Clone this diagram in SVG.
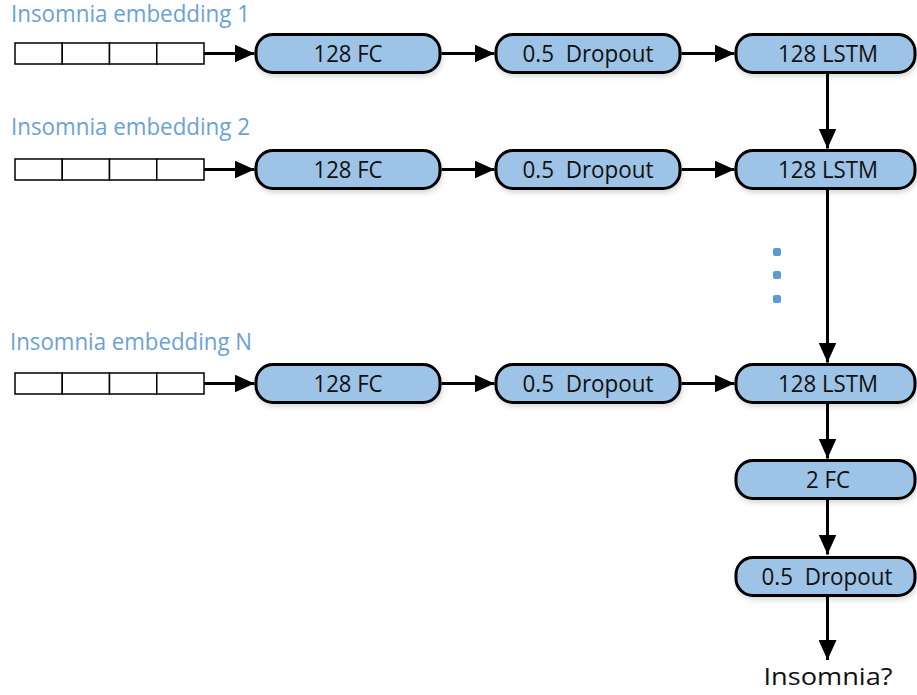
<svg xmlns="http://www.w3.org/2000/svg" width="917" height="695" viewBox="0 0 917 695">
  <style>
    .node { fill: #9DC3E6; stroke: #000; stroke-width: 3; filter: url(#shadow); }
    .lbl { font-family: "Open Sans", "Liberation Sans", Arial, sans-serif; font-size: 23px; fill: #111; text-anchor: middle; white-space: pre; }
    .emb-title { font-family: "Open Sans", "Liberation Sans", Arial, sans-serif; font-size: 23px; fill: #6AA2D6; }
    .cell { fill: #fff; stroke: #000; stroke-width: 1.5; }
    .edge { stroke: #000; stroke-width: 3; fill: none; marker-end: url(#arrow); }
    .dot { fill: #5B9BD5; }
  </style>
  <defs>
    <marker id="arrow" markerUnits="userSpaceOnUse" markerWidth="20" markerHeight="18" refX="20" refY="9" orient="auto">
      <path d="M0,0 L20,9 L0,18 z" fill="#000"/>
    </marker>
    <filter id="shadow" x="-10%" y="-30%" width="120%" height="170%">
      <feDropShadow dx="1" dy="3" stdDeviation="2.5" flood-color="#000" flood-opacity="0.15"/>
    </filter>
  </defs>

  <rect width="917" height="695" fill="#fff"/>

  <!-- input embedding titles -->
  <text class="emb-title" x="11" y="22" textLength="239" lengthAdjust="spacingAndGlyphs">Insomnia embedding 1</text>
  <text class="emb-title" x="11" y="135" textLength="239" lengthAdjust="spacingAndGlyphs">Insomnia embedding 2</text>
  <text class="emb-title" x="10" y="350" textLength="242" lengthAdjust="spacingAndGlyphs">Insomnia embedding N</text>

  <!-- embedding vectors -->
  <g id="emb1">
    <rect class="cell" x="15" y="43" width="47.25" height="21"/>
    <rect class="cell" x="62.25" y="43" width="47.25" height="21"/>
    <rect class="cell" x="109.5" y="43" width="47.25" height="21"/>
    <rect class="cell" x="156.75" y="43" width="47.25" height="21"/>
  </g>
  <g id="emb2">
    <rect class="cell" x="15" y="159" width="47.25" height="21"/>
    <rect class="cell" x="62.25" y="159" width="47.25" height="21"/>
    <rect class="cell" x="109.5" y="159" width="47.25" height="21"/>
    <rect class="cell" x="156.75" y="159" width="47.25" height="21"/>
  </g>
  <g id="embN">
    <rect class="cell" x="15" y="373" width="47.25" height="21"/>
    <rect class="cell" x="62.25" y="373" width="47.25" height="21"/>
    <rect class="cell" x="109.5" y="373" width="47.25" height="21"/>
    <rect class="cell" x="156.75" y="373" width="47.25" height="21"/>
  </g>

  <!-- connectors -->
  <g id="connectors">
    <line class="edge" x1="204" y1="53.5" x2="254.5" y2="53.5"/>
    <line class="edge" x1="441.5" y1="53.5" x2="494.5" y2="53.5"/>
    <line class="edge" x1="681.5" y1="53.5" x2="734.5" y2="53.5"/>
    <line class="edge" x1="204" y1="169.5" x2="254.5" y2="169.5"/>
    <line class="edge" x1="441.5" y1="169.5" x2="494.5" y2="169.5"/>
    <line class="edge" x1="681.5" y1="169.5" x2="734.5" y2="169.5"/>
    <line class="edge" x1="204" y1="383.5" x2="254.5" y2="383.5"/>
    <line class="edge" x1="441.5" y1="383.5" x2="494.5" y2="383.5"/>
    <line class="edge" x1="681.5" y1="383.5" x2="734.5" y2="383.5"/>
    <line class="edge" x1="827.5" y1="73.5" x2="827.5" y2="148.5"/>
    <line class="edge" x1="827.5" y1="189.5" x2="827.5" y2="362.5"/>
    <line class="edge" x1="827.5" y1="403.5" x2="827.5" y2="458.5"/>
    <line class="edge" x1="827.5" y1="499.5" x2="827.5" y2="554.5"/>
    <line class="edge" x1="827.5" y1="596.5" x2="827.5" y2="660"/>
  </g>

  <!-- row 1 -->
  <g id="fc1"><rect class="node" x="256" y="34.5" width="184" height="38" rx="17"/><text class="lbl" x="348" y="61.5" textLength="69" lengthAdjust="spacingAndGlyphs">128 FC</text></g>
  <g id="drop1"><rect class="node" x="496" y="34.5" width="184" height="38" rx="17"/><text class="lbl" x="588" y="61.5" textLength="131" lengthAdjust="spacingAndGlyphs">0.5  Dropout</text></g>
  <g id="lstm1"><rect class="node" x="736" y="34.5" width="179" height="38" rx="17"/><text class="lbl" x="828" y="61.5" textLength="100" lengthAdjust="spacingAndGlyphs">128 LSTM</text></g>

  <!-- row 2 -->
  <g id="fc2"><rect class="node" x="256" y="150.5" width="184" height="38" rx="17"/><text class="lbl" x="348" y="177.5" textLength="69" lengthAdjust="spacingAndGlyphs">128 FC</text></g>
  <g id="drop2"><rect class="node" x="496" y="150.5" width="184" height="38" rx="17"/><text class="lbl" x="588" y="177.5" textLength="131" lengthAdjust="spacingAndGlyphs">0.5  Dropout</text></g>
  <g id="lstm2"><rect class="node" x="736" y="150.5" width="179" height="38" rx="17"/><text class="lbl" x="828" y="177.5" textLength="100" lengthAdjust="spacingAndGlyphs">128 LSTM</text></g>

  <!-- ellipsis between rows -->
  <g id="ellipsis">
    <rect class="dot" x="773" y="248" width="8" height="8" rx="2"/>
    <rect class="dot" x="773" y="271" width="8" height="8" rx="2"/>
    <rect class="dot" x="773" y="295" width="8" height="8" rx="2"/>
  </g>

  <!-- row N -->
  <g id="fcN"><rect class="node" x="256" y="364.5" width="184" height="38" rx="17"/><text class="lbl" x="348" y="391.5" textLength="69" lengthAdjust="spacingAndGlyphs">128 FC</text></g>
  <g id="dropN"><rect class="node" x="496" y="364.5" width="184" height="38" rx="17"/><text class="lbl" x="588" y="391.5" textLength="131" lengthAdjust="spacingAndGlyphs">0.5  Dropout</text></g>
  <g id="lstmN"><rect class="node" x="736" y="364.5" width="179" height="38" rx="17"/><text class="lbl" x="828" y="391.5" textLength="100" lengthAdjust="spacingAndGlyphs">128 LSTM</text></g>

  <!-- output head -->
  <g id="fcOut"><rect class="node" x="736" y="460.5" width="179" height="38" rx="17"/><text class="lbl" x="828" y="487.5" textLength="44" lengthAdjust="spacingAndGlyphs">2 FC</text></g>
  <g id="dropOut"><rect class="node" x="736" y="557.5" width="179" height="38" rx="17"/><text class="lbl" x="827" y="584.5" textLength="131" lengthAdjust="spacingAndGlyphs">0.5  Dropout</text></g>
  <g id="output"><text class="lbl" x="828" y="685" textLength="129" lengthAdjust="spacingAndGlyphs">Insomnia?</text></g>
</svg>
